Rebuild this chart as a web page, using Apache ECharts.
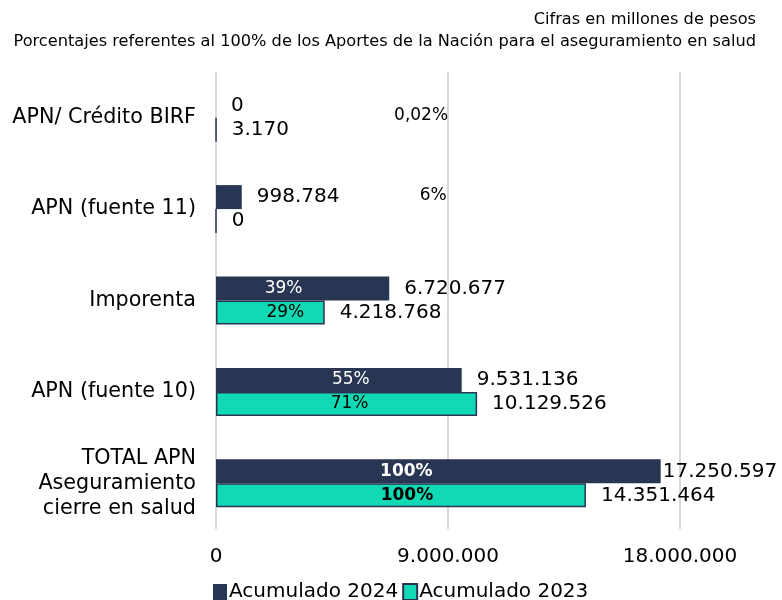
<!DOCTYPE html>
<html>
<head>
<meta charset="utf-8">
<script src="https://cdn.jsdelivr.net/npm/echarts@6/dist/echarts.min.js"></script>
<style>
  html, body { margin: 0; padding: 0; background: #fff; }
  #chart { width: 782px; height: 600px; }
</style>
</head>
<body>
<div id="chart"></div>
<script>
// categories listed top to bottom (y axis is inverted)
const categories = ['APN/ Crédito BIRF', 'APN (fuente 11)', 'Imporenta', 'APN (fuente 10)', 'TOTAL APN\nAseguramiento\ncierre en salud'];
const acum2024 = [0, 998784, 6720677, 9531136, 17250597];
const acum2023 = [3170, 0, 4218768, 10129526, 14351464];
const pct2024 = ['', '6%', '39%', '55%', '100%'];
const pct2023 = ['0,02%', '', '29%', '71%', '100%'];
const xTicks = [0, 9000000, 18000000];

const NAVY = '#283654';
const TEAL = '#10d9b4';
const FONT = 'DejaVu Sans';

// horizontal nudges of the percentage labels, as placed in the original
const shift2024 = [0, 0, -19, 12, -32];
const shift2023 = [0, 0, 15, 3, 6];

const fmt = v => String(Math.round(v)).replace(/\B(?=(\d{3})+(?!\d))/g, '.');

const chart = echarts.init(document.getElementById('chart'));

const valueData = (vals) => vals.map((v, i) => {
  // the longest bar's label sits close to the bar end
  if (v === Math.max(...acum2024, ...acum2023)) return { value: v, label: { distance: 2 } };
  return v;
});

const pctData = (vals, pcts, color, shift) => vals.map((v, i) => {
  const bold = i === categories.length - 1;
  const item = { value: v, label: { formatter: pcts[i], color: color, fontWeight: bold ? 'bold' : 'normal', offset: [shift[i], 0] } };
  // small shares are drawn outside, far to the right
  if (pcts[i] && v < 2000000) {
    item.label = { formatter: pcts[i], position: 'right', distance: 178, color: '#000', fontSize: 17, offset: pcts[i] === '6%' ? [0, -2] : [0, -14] };
  }
  return item;
});

const option = {
  animation: false,
  textStyle: { fontFamily: FONT },
  title: {
    text: 'Cifras en millones de pesos\nPorcentajes referentes al 100% de los Aportes de la Nación para el aseguramiento en salud',
    left: 751,
    top: 4,
    textAlign: 'right',
    textStyle: { fontFamily: FONT, fontSize: 16.2, fontWeight: 'normal', color: '#000', lineHeight: 22 }
  },
  legend: {
    data: ['Acumulado 2024', 'Acumulado 2023'],
    top: 577,
    left: 208,
    itemWidth: 14,
    itemHeight: 16,
    itemGap: 4,
    icon: 'rect',
    textStyle: { fontFamily: FONT, fontSize: 20, color: '#000', padding: [0, 0, 0, -3] }
  },
  grid: { left: 216, right: 102, top: 72, bottom: 71 },
  xAxis: {
    type: 'value',
    min: 0,
    max: 18000000,
    interval: 9000000,
    axisLine: { show: false },
    axisTick: { show: false },
    splitLine: { show: true, lineStyle: { color: '#d9d9d9', width: 2 } },
    axisLabel: {
      fontFamily: FONT, fontSize: 20, color: '#000', margin: 18,
      formatter: v => xTicks.includes(v) ? fmt(v) : ''
    }
  },
  yAxis: [
    {
      type: 'category',
      inverse: true,
      data: categories,
      axisLine: { show: false },
      axisTick: { show: false },
      axisLabel: { fontFamily: FONT, fontSize: 20.7, color: '#000', margin: 20, lineHeight: 25, align: 'right' }
    },
    {
      type: 'category',
      inverse: true,
      data: categories,
      show: false
    }
  ],
  series: [
    {
      name: 'Acumulado 2024',
      type: 'bar',
      yAxisIndex: 0,
      barWidth: 24,
      barGap: '0%',
      itemStyle: { color: NAVY },
      label: { show: true, position: 'right', distance: 15, fontFamily: FONT, fontSize: 20, color: '#000', formatter: p => fmt(p.value) },
      data: valueData(acum2024)
    },
    {
      name: 'Acumulado 2023',
      type: 'bar',
      yAxisIndex: 0,
      barWidth: 24,
      itemStyle: { color: TEAL, borderColor: NAVY, borderWidth: 1.5 },
      label: { show: true, position: 'right', distance: 15, fontFamily: FONT, fontSize: 20, color: '#000', formatter: p => fmt(p.value) },
      data: valueData(acum2023)
    },
    {
      name: 'pct2024',
      type: 'bar',
      yAxisIndex: 1,
      barWidth: 24,
      barGap: '0%',
      silent: true,
      itemStyle: { color: 'rgba(0,0,0,0)' },
      label: { show: true, position: 'inside', fontFamily: FONT, fontSize: 17 },
      data: pctData(acum2024, pct2024, '#fff', shift2024)
    },
    {
      name: 'pct2023',
      type: 'bar',
      yAxisIndex: 1,
      barWidth: 24,
      silent: true,
      itemStyle: { color: 'rgba(0,0,0,0)' },
      label: { show: true, position: 'inside', fontFamily: FONT, fontSize: 17 },
      data: pctData(acum2023, pct2023, '#000', shift2023)
    }
  ]
};

chart.setOption(option);
</script>
</body>
</html>
